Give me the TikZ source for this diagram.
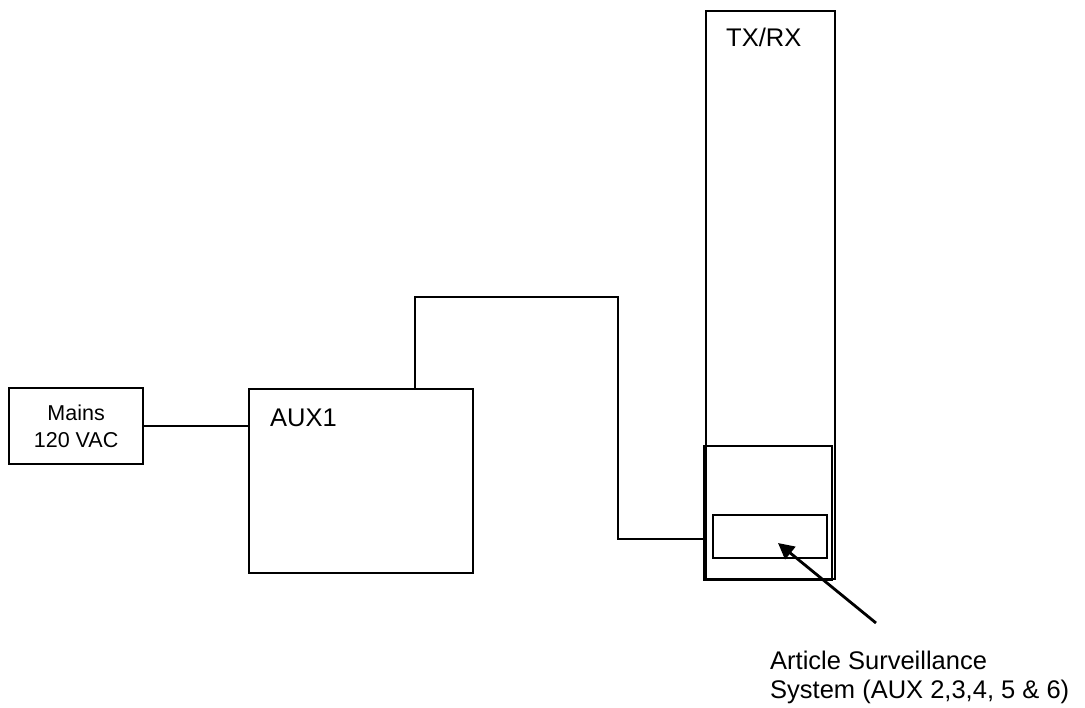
\documentclass[tikz,border=0pt]{standalone}
\usepackage{fontspec}
\setmainfont{Liberation Sans}
\usetikzlibrary{arrows.meta}
\begin{document}
\begin{tikzpicture}[x=1pt,y=-1pt,
  box/.style={draw=black,line width=2.2pt,rectangle,inner sep=0pt,anchor=north west},
  wire/.style={draw=black,line width=2.2pt},
  big/.style={font=\fontsize{25.5}{29}\selectfont,inner sep=0pt,anchor=base west},
  small/.style={font=\fontsize{21.5}{27}\selectfont,inner sep=0pt,align=center}]
\useasboundingbox (0,0) rectangle (1085,708);
% boxes
\node[box,minimum width=129pt,minimum height=568pt] (txrx) at (705,10) {};
\node[box,minimum width=128pt,minimum height=134pt] (lower) at (703,445) {};
\node[box,minimum width=114pt,minimum height=43pt] (ass) at (712,514) {};
\node[box,minimum width=134pt,minimum height=76pt] (mains) at (8,387) {};
\node[box,minimum width=224pt,minimum height=184pt] (aux1) at (248,388) {};
% texts
\node[big] (ttx) at (726,47) {TX/RX};
\node[big] (taux) at (270,427) {AUX1};
\node[small] (tmains) at (mains.center) {Mains\\120 VAC};
\node[big,align=left,anchor=north west] (tass) at (770,651) {Article Surveillance\\System (AUX 2,3,4, 5 \& 6)};
% connectors
\coordinate (up) at (415,297);
\coordinate (dn) at (618,539);
\draw[wire] (mains.east) -- (aux1.west |- mains.east);
\draw[wire] (aux1.north -| up) -- (up) -| (dn) -- (lower.west |- dn);
\coordinate (tail) at (876,623);
\draw[wire,line width=2.8pt,-{Triangle[length=16pt,width=16pt]}] (tail) -- (778,543);
\end{tikzpicture}
\end{document}
